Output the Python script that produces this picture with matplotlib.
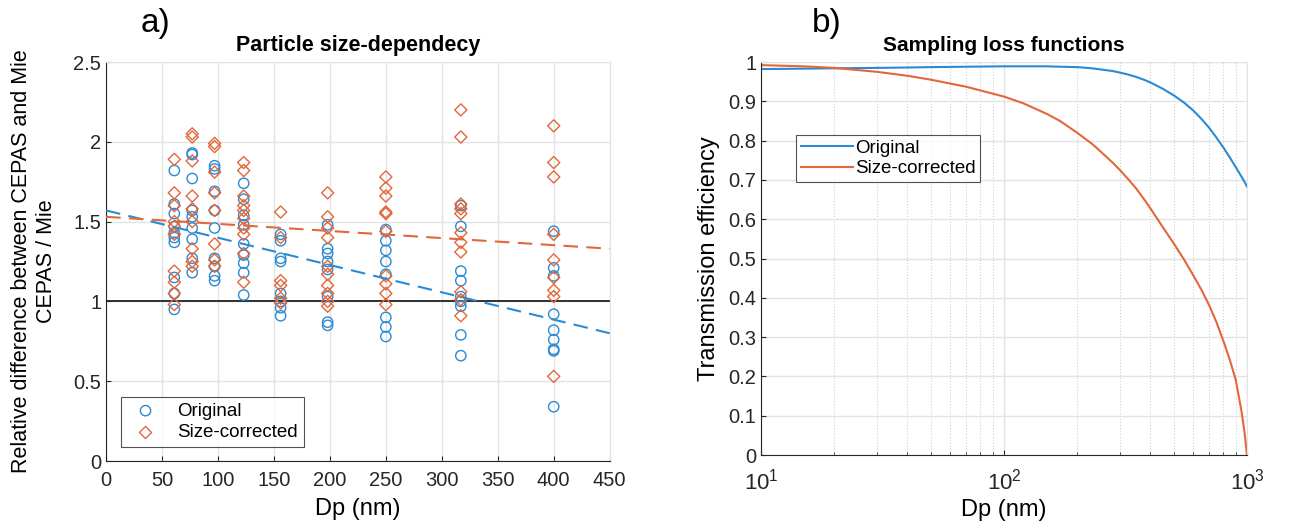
import numpy as np
import matplotlib.pyplot as plt
from matplotlib.ticker import FuncFormatter, MultipleLocator, LogLocator

plt.rcParams['font.family'] = ['Liberation Sans', 'DejaVu Sans']

# ===== a) particle size dependency =====
dp_bins = [61, 77, 97, 123, 156, 198, 250, 317, 400]

ratio_original = [
    [1.82, 1.61, 1.55, 1.47, 1.43, 1.40, 1.37, 1.15, 1.05, 0.95],
    [1.93, 1.92, 1.77, 1.57, 1.53, 1.46, 1.39, 1.27, 1.18],
    [1.85, 1.83, 1.69, 1.57, 1.46, 1.27, 1.22, 1.16, 1.13],
    [1.74, 1.64, 1.54, 1.48, 1.36, 1.29, 1.24, 1.18, 1.04],
    [1.42, 1.38, 1.27, 1.25, 1.05, 1.00, 0.96, 0.91],
    [1.48, 1.33, 1.30, 1.25, 1.20, 1.03, 0.87, 0.85],
    [1.45, 1.38, 1.32, 1.25, 1.17, 0.90, 0.84, 0.78],
    [1.60, 1.47, 1.19, 1.13, 1.03, 1.00, 0.97, 0.79, 0.66],
    [1.44, 1.21, 1.16, 0.92, 0.82, 0.76, 0.70, 0.69, 0.34],
]
ratio_corrected = [
    [1.89, 1.68, 1.60, 1.50, 1.47, 1.42, 1.19, 1.12, 1.05, 0.98],
    [2.05, 2.03, 1.88, 1.66, 1.58, 1.50, 1.33, 1.25, 1.22],
    [1.99, 1.97, 1.81, 1.68, 1.57, 1.36, 1.26, 1.22],
    [1.87, 1.82, 1.66, 1.60, 1.57, 1.52, 1.46, 1.42, 1.30, 1.12],
    [1.56, 1.40, 1.13, 1.10, 1.02, 0.99],
    [1.68, 1.53, 1.46, 1.40, 1.22, 1.17, 1.10, 1.05, 1.00, 0.97],
    [1.78, 1.71, 1.66, 1.56, 1.55, 1.44, 1.16, 1.11, 1.05, 0.98],
    [2.20, 2.03, 1.61, 1.58, 1.55, 1.43, 1.37, 1.31, 1.06, 1.01, 0.91],
    [2.10, 1.87, 1.78, 1.42, 1.26, 1.15, 1.07, 1.03, 0.53],
]

# linear fits (intercept, slope)
fit_original = (1.57, -0.00171)
fit_corrected = (1.53, -0.000444)

# ===== b) sampling loss functions =====
dp_curve = [10, 15, 20, 30, 40, 50, 70, 100, 120, 150, 170, 200, 230, 250,
            280, 300, 320, 350, 380, 400, 450, 500, 550, 600, 650, 700, 750,
            800, 850, 900, 950, 975, 1000]
eff_original = [0.982, 0.983, 0.984, 0.985, 0.986, 0.987, 0.988, 0.989, 0.989,
                0.989, 0.988, 0.987, 0.984, 0.981, 0.977, 0.973, 0.969, 0.962,
                0.954, 0.948, 0.932, 0.915, 0.897, 0.877, 0.855, 0.832, 0.807,
                0.782, 0.757, 0.732, 0.708, 0.696, 0.683]
eff_corrected = [0.992, 0.989, 0.985, 0.975, 0.965, 0.955, 0.937, 0.912, 0.895,
                 0.868, 0.85, 0.82, 0.792, 0.772, 0.744, 0.725, 0.706, 0.678,
                 0.648, 0.628, 0.58, 0.538, 0.498, 0.458, 0.42, 0.38, 0.337,
                 0.29, 0.242, 0.19, 0.11, 0.062, 0.0]

blue = '#2a8ad4'
orange = '#e2673a'
grid_c = '#e3e3e3'
spine_c = '#262626'

fig = plt.figure(figsize=(12.98, 5.25), dpi=100)

def style_axes(ax):
    for s in ['top', 'right']:
        ax.spines[s].set_color(grid_c)
    for s in ['left', 'bottom']:
        ax.spines[s].set_color(spine_c)
        ax.spines[s].set_linewidth(0.8)
    ax.tick_params(which='both', direction='in', colors=spine_c, labelsize=14.5,
                   top=False, right=False)
    ax.tick_params(axis='x', pad=7)
    ax.set_axisbelow(True)

fmt = FuncFormatter(lambda v, p: '%g' % v)

# ---- panel a
ax1 = fig.add_axes([0.0817, 0.1219, 0.388, 0.76])
style_axes(ax1)
for i, d in enumerate(dp_bins):
    ax1.scatter([d] * len(ratio_original[i]), ratio_original[i], s=55, marker='o',
                facecolors='none', edgecolors=blue, linewidths=1.0,
                label='Original' if i == 0 else None, zorder=3)
for i, d in enumerate(dp_bins):
    ax1.scatter([d] * len(ratio_corrected[i]), ratio_corrected[i], s=38, marker='D',
                facecolors='none', edgecolors=orange, linewidths=1.0,
                label='Size-corrected' if i == 0 else None, zorder=3)
ax1.set_xlim(0, 450)
ax1.set_ylim(0, 2.5)
xl = np.array(ax1.get_xlim())
ax1.plot(xl, fit_original[0] + fit_original[1] * xl, '--', color=blue,
         lw=1.5, dashes=(7, 4), zorder=4)
ax1.plot(xl, fit_corrected[0] + fit_corrected[1] * xl, '--', color=orange,
         lw=1.5, dashes=(7, 4), zorder=4)
ax1.axhline(1, color='#222222', lw=1.3, zorder=2)
ax1.xaxis.set_major_locator(MultipleLocator(50))
ax1.yaxis.set_major_locator(MultipleLocator(0.5))
ax1.yaxis.set_major_formatter(fmt)
ax1.grid(True, color=grid_c, lw=1.0)
ax1.set_xlabel('Dp (nm)', fontsize=17, labelpad=6)
ax1.set_ylabel('Relative difference between CEPAS and Mie\nCEPAS / Mie',
               fontsize=15.5, labelpad=12, linespacing=1.2)
ax1.set_title('Particle size-dependecy', fontsize=15.5, fontweight='bold', pad=8)
leg1 = ax1.legend(loc='lower left', bbox_to_anchor=(0.03, 0.035), fontsize=13.5,
                  frameon=True, fancybox=False, edgecolor='#262626',
                  handletextpad=0.7, borderpad=0.3, labelspacing=0.25,
                  borderaxespad=0)
leg1.get_frame().set_linewidth(0.8)
fig.text(0.12, 0.955, 'a)', fontsize=24, ha='center', va='center')

# ---- panel b
ax2 = fig.add_axes([0.5863, 0.1333, 0.3744, 0.7486])
style_axes(ax2)
ax2.semilogx(dp_curve, eff_original, color=blue, lw=1.5, label='Original')
ax2.semilogx(dp_curve, eff_corrected, color=orange, lw=1.5, label='Size-corrected')
ax2.set_xlim(10, 1000)
ax2.set_ylim(0, 1)
ax2.yaxis.set_major_locator(MultipleLocator(0.1))
ax2.yaxis.set_major_formatter(fmt)
ax2.xaxis.set_minor_locator(LogLocator(base=10, subs=np.arange(2, 10)))
ax2.tick_params(axis='x', which='major', labelsize=16, pad=10)
ax2.grid(True, which='major', color=grid_c, lw=1.0)
ax2.grid(True, which='minor', axis='x', color='#d0d0d0', lw=0.8, ls=':')
ax2.set_xlabel('Dp (nm)', fontsize=17, labelpad=3)
ax2.set_ylabel('Transmission efficiency', fontsize=17, labelpad=6)
ax2.set_title('Sampling loss functions', fontsize=15, fontweight='bold', pad=8)
leg2 = ax2.legend(loc='upper left', bbox_to_anchor=(0.072, 0.815), fontsize=13.5,
                  frameon=True, fancybox=False, edgecolor='#262626',
                  handlelength=2.8, handletextpad=0.1, borderpad=0.25,
                  labelspacing=0.2, borderaxespad=0)
leg2.get_frame().set_linewidth(0.8)
fig.text(0.637, 0.955, 'b)', fontsize=24, ha='center', va='center')

fig.savefig('out.png', dpi=100)
